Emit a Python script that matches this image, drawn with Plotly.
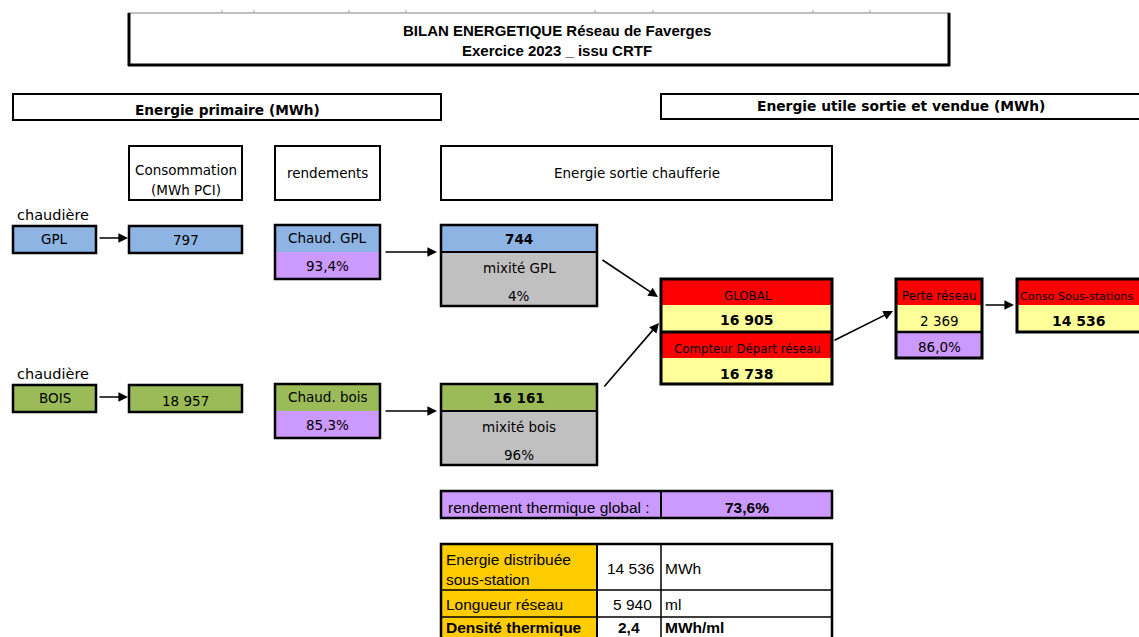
import plotly.graph_objects as go

# ---------------- data ----------------
chaudieres = ["GPL", "BOIS"]
consommation_mwh_pci = [797, 18957]
rendement_chaudiere_pct = [93.4, 85.3]
energie_sortie_mwh = [744, 16161]
mixite_pct = [4, 96]
global_mwh = 16905
compteur_depart_mwh = 16738
perte_reseau_mwh = 2369
rendement_reseau_pct = 86.0
conso_sous_stations_mwh = 14536
rendement_global_pct = 73.6
energie_distribuee_mwh = 14536
longueur_reseau_ml = 5940
densite_thermique = 2.4


def fr_int(v):
    return f"{v:,}".replace(",", " ")


def fr_pct(v, d=1):
    return f"{v:.{d}f}%".replace(".", ",")


# ---------------- styles ----------------
TAH = "DejaVu Sans"
ARIAL = "Liberation Sans"
BLUE = "#8DB4E2"
GREEN = "#9BBB59"
PURPLE = "#CC99FF"
GREY = "#C0C0C0"
RED = "#FF0000"
YELLOW = "#FFFF99"
ORANGE = "#FFCC00"
FS = 13.5      # Tahoma-like text size
FA = 15.5      # Arial text size
FR = 11.8      # small text in red cells

fills = []
borders = []
annotations = []


def fill(x0, y0, x1, y1, color):
    fills.append(dict(type="rect", xref="x", yref="y", x0=x0, y0=y0, x1=x1, y1=y1,
                      fillcolor=color, line=dict(width=0)))


def outline(x0, y0, x1, y1, lw=2.5, color="black"):
    borders.append(dict(type="rect", xref="x", yref="y", x0=x0, y0=y0, x1=x1, y1=y1,
                        fillcolor="rgba(0,0,0,0)", line=dict(color=color, width=lw)))


def hline(x0, x1, y, lw=2.5, color="black"):
    borders.append(dict(type="line", xref="x", yref="y", x0=x0, x1=x1, y0=y, y1=y,
                        line=dict(color=color, width=lw)))


def vline(x, y0, y1, lw=2.5, color="black"):
    borders.append(dict(type="line", xref="x", yref="y", x0=x, x1=x, y0=y0, y1=y1,
                        line=dict(color=color, width=lw)))


def txt(x, y, s, size=FS, bold=False, font=TAH, xanchor="center", color="black"):
    annotations.append(dict(x=x, y=y, xref="x", yref="y", text=f"<b>{s}</b>" if bold else s,
                            showarrow=False, font=dict(family=font, size=size, color=color),
                            xanchor=xanchor, yanchor="middle"))


def arrow(x0, y0, x1, y1):
    annotations.append(dict(x=x1, y=y1, ax=x0, ay=y0, xref="x", yref="y", axref="x", ayref="y",
                            text="", showarrow=True, arrowhead=2, arrowsize=1.2,
                            arrowwidth=1.6, arrowcolor="black", standoff=0))


# ---------------- title block ----------------
hline(128, 950, 13, lw=1, color="#808080")
for tx in [222, 254, 349, 406, 595, 653, 813, 870]:
    vline(tx, 10, 13, lw=1, color="#A0A0A0")
vline(129, 13, 66, lw=3)
vline(949, 13, 66, lw=3)
hline(128, 950, 65, lw=3)
txt(557, 30, "BILAN ENERGETIQUE Réseau de Faverges", size=15, bold=True, font=ARIAL)
txt(557, 50, "Exercice 2023 _ issu CRTF", size=15, bold=True, font=ARIAL)

# section headers
outline(13, 94, 441, 120, lw=2)
txt(227, 110, "Energie primaire (MWh)", size=13.7, bold=True)
outline(661, 94, 1150, 119, lw=2)
txt(901, 106, "Energie utile sortie et vendue (MWh)", size=13.8, bold=True)

# column headers
outline(129, 146, 242, 200, lw=2)
txt(185.5, 170, "Consommation")
txt(185.5, 190, "(MWh PCI)")
outline(275, 146, 380, 200, lw=2)
txt(327.5, 173, "rendements")
outline(441, 146, 832, 200, lw=2)
txt(636.5, 173, "Energie sortie chaufferie")

# ---------------- boiler rows ----------------
row_tops = [226, 385]
row_colors = [BLUE, GREEN]
chaud_labels = ["Chaud. GPL", "Chaud. bois"]
mix_labels = ["mixité GPL", "mixité bois"]
for i, name in enumerate(chaudieres):
    T = row_tops[i]
    c = row_colors[i]
    txt(15, T - 11, "chaudière", size=14.5, xanchor="left")
    # boiler
    fill(13, T, 96, T + 27, c)
    outline(13, T, 96, T + 27, lw=2.5)
    txt(54.5, T + 13, name)
    arrow(98, T + 12, 128, T + 12)
    # consumption
    fill(129, T, 242, T + 27, c)
    outline(129, T, 242, T + 27, lw=2.5)
    txt(185.5, T + 14 + (2 if i == 1 else 0), fr_int(consommation_mwh_pci[i]))
    # efficiency
    fill(275, T - 1, 380, T + 26, c)
    fill(275, T + 26, 380, T + 53, PURPLE)
    outline(275, T - 1, 380, T + 53, lw=2.5)
    txt(327.5, T + 12, chaud_labels[i])
    txt(327.5, T + 40, fr_pct(rendement_chaudiere_pct[i]))
    arrow(384, T + 26, 437, T + 26)
    # output
    fill(441, T - 1, 597, T + 26, c)
    fill(441, T + 26, 597, T + 80, GREY)
    outline(441, T - 1, 597, T + 80, lw=2.5)
    hline(441, 597, T + 26, lw=2)
    txt(519, T + 13, fr_int(energie_sortie_mwh[i]), bold=True)
    txt(519, T + 42, mix_labels[i])
    txt(519, T + 70, f"{mixite_pct[i]}%")

# arrows to GLOBAL
arrow(601, 259, 658, 297)
arrow(603, 388, 659, 323)

# ---------------- global block ----------------
fill(661, 279, 832, 305, RED)
fill(661, 305, 832, 332, YELLOW)
fill(661, 332, 832, 358, RED)
fill(661, 358, 832, 384, YELLOW)
outline(661, 279, 832, 384, lw=3)
hline(661, 832, 332, lw=3)
txt(748, 296, "GLOBAL", size=FR)
txt(747, 320, fr_int(global_mwh), size=14, bold=True)
txt(747, 349, "Compteur Départ réseau", size=FR)
txt(747, 374, fr_int(compteur_depart_mwh), size=14, bold=True)

arrow(833, 341, 893, 311)

# network loss
fill(896, 279, 982, 305, RED)
fill(896, 305, 982, 332, YELLOW)
fill(896, 332, 982, 358, PURPLE)
outline(896, 279, 982, 358, lw=3)
hline(896, 982, 332, lw=2.5)
txt(939, 296, "Perte réseau", size=FR)
txt(939, 321, fr_int(perte_reseau_mwh))
txt(939, 347, fr_pct(rendement_reseau_pct))

arrow(984, 305, 1014, 305)

# substations
fill(1017, 279, 1150, 305, RED)
fill(1017, 305, 1150, 332, YELLOW)
outline(1017, 279, 1150, 332, lw=3)
txt(1018, 296, "Conso Sous-stations", size=11.2, xanchor="left")
txt(1079, 321, fr_int(conso_sous_stations_mwh), size=14, bold=True)

# ---------------- global efficiency ----------------
fill(441, 491, 832, 518, PURPLE)
outline(441, 491, 832, 518, lw=2.5)
vline(661, 491, 518, lw=2)
txt(446, 507, "rendement thermique global :", size=FA, font=ARIAL, xanchor="left")
txt(746.5, 507, fr_pct(rendement_global_pct), size=FA, bold=True, font=ARIAL)

# ---------------- bottom table ----------------
fill(441, 544, 597, 650, ORANGE)
outline(441, 544, 832, 650, lw=2.5)
vline(597, 544, 650, lw=2)
vline(661, 544, 650, lw=1.5)
hline(441, 832, 590, lw=1.5)
hline(441, 832, 617, lw=1.5)
txt(444, 559, "Energie distribuée", size=FA, font=ARIAL, xanchor="left")
txt(444, 579, "sous-station", size=FA, font=ARIAL, xanchor="left")
txt(656, 568, fr_int(energie_distribuee_mwh), size=FA, font=ARIAL, xanchor="right")
txt(663, 568, "MWh", size=FA, font=ARIAL, xanchor="left")
txt(444, 604, "Longueur réseau", size=FA, font=ARIAL, xanchor="left")
txt(654, 604, fr_int(longueur_reseau_ml), size=FA, font=ARIAL, xanchor="right")
txt(663, 604, "ml", size=FA, font=ARIAL, xanchor="left")
txt(444, 627, "Densité thermique", size=FA, bold=True, font=ARIAL, xanchor="left")
txt(629, 627, f"{densite_thermique}".replace(".", ","), size=FA, bold=True, font=ARIAL)
txt(663, 627, "MWh/ml", size=FA, bold=True, font=ARIAL, xanchor="left")

# ---------------- figure ----------------
fig = go.Figure()
fig.update_layout(
    width=1139, height=637,
    margin=dict(l=0, r=0, t=0, b=0),
    paper_bgcolor="white", plot_bgcolor="white",
    xaxis=dict(range=[0, 1139], visible=False, fixedrange=True),
    yaxis=dict(range=[637, 0], visible=False, fixedrange=True),
    shapes=fills + borders,
    annotations=annotations,
    showlegend=False,
)

fig.write_html("out.html",
               config={"displayModeBar": False},
               post_script="document.body.style.margin='0';document.body.style.overflow='hidden';")
